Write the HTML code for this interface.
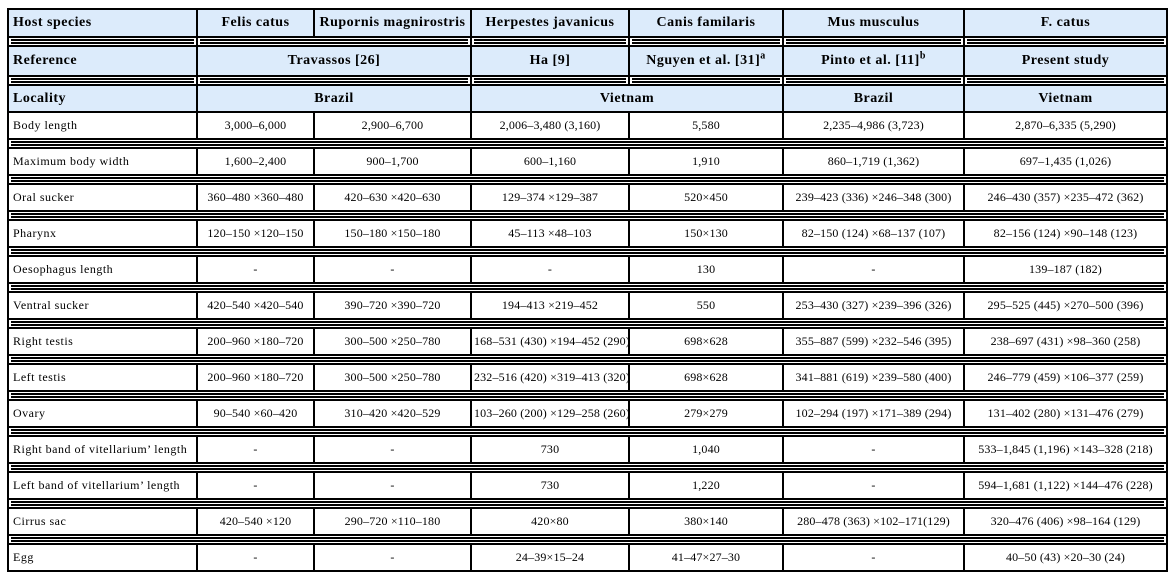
<!DOCTYPE html>
<html><head><meta charset="utf-8"><style>
body{margin:0;background:#fff;}
table{position:absolute;left:7px;top:8px;border-collapse:collapse;table-layout:fixed;width:1159px;font-family:"Liberation Serif",serif;font-size:12px;letter-spacing:0.15px;color:#000;}
td{border:2px solid #000;padding:0 2px;text-align:center;white-space:nowrap;overflow:hidden;height:26px;box-sizing:border-box;}
td:first-child{text-align:left;letter-spacing:0.5px;padding-left:4px;}
tr.h td{background:#dcebfb;font-weight:bold;font-size:14px;letter-spacing:0.5px;}
tr.s td{height:9px;padding:0;background:#fff;border-top:1px solid #000;border-bottom:1px solid #000;}
tr.s td div{border-top:2px solid #000;border-bottom:2px solid #000;height:1px;margin:0 2px;}
sup{font-size:10px;line-height:0;}
</style></head><body>
<table>
<colgroup><col style="width:189px"><col style="width:117px"><col style="width:157px"><col style="width:158px"><col style="width:154px"><col style="width:181px"><col style="width:203px"></colgroup>
<tr class="h"><td style="height:28px">Host species</td><td>Felis catus</td><td>Rupornis magnirostris</td><td>Herpestes javanicus</td><td>Canis familaris</td><td>Mus musculus</td><td>F. catus</td></tr>
<tr class="s"><td><div></div></td><td colspan="2"><div></div></td><td><div></div></td><td><div></div></td><td><div></div></td><td><div></div></td></tr>
<tr class="h"><td style="height:30px">Reference</td><td colspan="2">Travassos [26]</td><td>Ha [9]</td><td>Nguyen et al. [31]<sup>a</sup></td><td>Pinto et al. [11]<sup>b</sup></td><td>Present study</td></tr>
<tr class="s"><td><div></div></td><td colspan="2"><div></div></td><td><div></div></td><td><div></div></td><td><div></div></td><td><div></div></td></tr>
<tr class="h"><td style="height:27px">Locality</td><td colspan="2">Brazil</td><td colspan="2">Vietnam</td><td>Brazil</td><td>Vietnam</td></tr>
<tr><td style="height:27px">Body length</td><td>3,000–6,000</td><td>2,900–6,700</td><td>2,006–3,480 (3,160)</td><td>5,580</td><td>2,235–4,986 (3,723)</td><td>2,870–6,335 (5,290)</td></tr>
<tr class="s"><td colspan="7"><div></div></td></tr>
<tr><td style="height:27px">Maximum body width</td><td>1,600–2,400</td><td>900–1,700</td><td>600–1,160</td><td>1,910</td><td>860–1,719 (1,362)</td><td>697–1,435 (1,026)</td></tr>
<tr class="s"><td colspan="7"><div></div></td></tr>
<tr><td style="height:27px">Oral sucker</td><td>360–480 ×360–480</td><td>420–630 ×420–630</td><td>129–374 ×129–387</td><td>520×450</td><td>239–423 (336) ×246–348 (300)</td><td>246–430 (357) ×235–472 (362)</td></tr>
<tr class="s"><td colspan="7"><div></div></td></tr>
<tr><td style="height:27px">Pharynx</td><td>120–150 ×120–150</td><td>150–180 ×150–180</td><td>45–113 ×48–103</td><td>150×130</td><td>82–150 (124) ×68–137 (107)</td><td>82–156 (124) ×90–148 (123)</td></tr>
<tr class="s"><td colspan="7"><div></div></td></tr>
<tr><td style="height:27px">Oesophagus length</td><td>-</td><td>-</td><td>-</td><td>130</td><td>-</td><td>139–187 (182)</td></tr>
<tr class="s"><td colspan="7"><div></div></td></tr>
<tr><td style="height:27px">Ventral sucker</td><td>420–540 ×420–540</td><td>390–720 ×390–720</td><td>194–413 ×219–452</td><td>550</td><td>253–430 (327) ×239–396 (326)</td><td>295–525 (445) ×270–500 (396)</td></tr>
<tr class="s"><td colspan="7"><div></div></td></tr>
<tr><td style="height:27px">Right testis</td><td>200–960 ×180–720</td><td>300–500 ×250–780</td><td>168–531 (430) ×194–452 (290)</td><td>698×628</td><td>355–887 (599) ×232–546 (395)</td><td>238–697 (431) ×98–360 (258)</td></tr>
<tr class="s"><td colspan="7"><div></div></td></tr>
<tr><td style="height:27px">Left testis</td><td>200–960 ×180–720</td><td>300–500 ×250–780</td><td>232–516 (420) ×319–413 (320)</td><td>698×628</td><td>341–881 (619) ×239–580 (400)</td><td>246–779 (459) ×106–377 (259)</td></tr>
<tr class="s"><td colspan="7"><div></div></td></tr>
<tr><td style="height:27px">Ovary</td><td>90–540 ×60–420</td><td>310–420 ×420–529</td><td>103–260 (200) ×129–258 (260)</td><td>279×279</td><td>102–294 (197) ×171–389 (294)</td><td>131–402 (280) ×131–476 (279)</td></tr>
<tr class="s"><td colspan="7"><div></div></td></tr>
<tr><td style="height:27px">Right band of vitellarium’ length</td><td>-</td><td>-</td><td>730</td><td>1,040</td><td>-</td><td>533–1,845 (1,196) ×143–328 (218)</td></tr>
<tr class="s"><td colspan="7"><div></div></td></tr>
<tr><td style="height:27px">Left band of vitellarium’ length</td><td>-</td><td>-</td><td>730</td><td>1,220</td><td>-</td><td>594–1,681 (1,122) ×144–476 (228)</td></tr>
<tr class="s"><td colspan="7"><div></div></td></tr>
<tr><td style="height:27px">Cirrus sac</td><td>420–540 ×120</td><td>290–720 ×110–180</td><td>420×80</td><td>380×140</td><td>280–478 (363) ×102–171(129)</td><td>320–476 (406) ×98–164 (129)</td></tr>
<tr class="s"><td colspan="7"><div></div></td></tr>
<tr><td style="height:27px">Egg</td><td>-</td><td>-</td><td>24–39×15–24</td><td>41–47×27–30</td><td>-</td><td>40–50 (43) ×20–30 (24)</td></tr>
</table>
</body></html>
